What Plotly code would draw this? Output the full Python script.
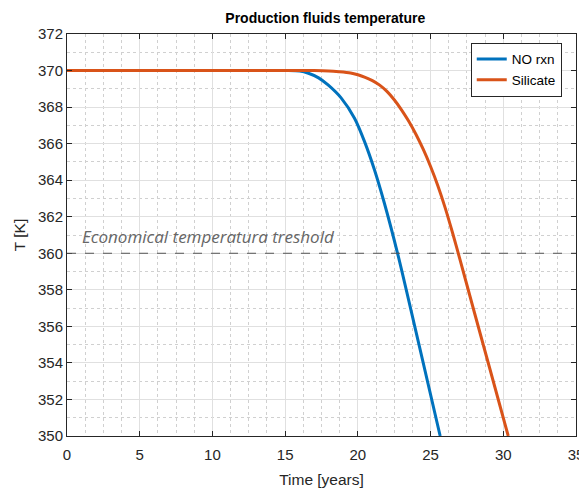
import plotly.graph_objects as go

# Data
t_norxn = [0, 5, 10, 15, 16, 16.6, 17.3, 17.95, 18.86, 19.77, 20.46, 21.14, 21.82, 22.73, 24.0, 25.66]
T_norxn = [370, 370, 370, 370, 369.97, 369.85, 369.6, 369.21, 368.49, 367.39, 366.11, 364.57, 362.75, 360.0, 355.7, 350.0]

t_sil = [0, 5, 10, 15, 17, 18, 18.7, 19.5, 20, 20.5, 21, 21.5, 22, 22.5, 23, 23.5, 24, 24.5, 25, 25.5, 26, 26.5, 27, 28, 29, 30.34]
T_sil = [370, 370, 370, 370, 370, 369.98, 369.94, 369.87, 369.77, 369.63, 369.45, 369.2, 368.86, 368.4, 367.85, 367.22, 366.5, 365.68, 364.75, 363.7, 362.5, 361.15, 359.72, 356.8, 353.9, 350.0]

THRESHOLD = 360
threshold_label = "Economical temperatura treshold"
x_range = [0, 35]
y_range = [350, 372]

fig = go.Figure()
fig.add_trace(go.Scatter(x=t_norxn, y=T_norxn, mode="lines", name="NO rxn",
                         line=dict(color="#0072BD", width=3, shape="spline", smoothing=0.8)))
fig.add_trace(go.Scatter(x=t_sil, y=T_sil, mode="lines", name="Silicate",
                         line=dict(color="#D95319", width=3, shape="spline", smoothing=0.8)))

fig.add_shape(type="line", xref="x", yref="y", x0=x_range[0], x1=x_range[1],
              y0=THRESHOLD, y1=THRESHOLD, line=dict(color="#555555", width=1, dash="dash"))
fig.add_annotation(x=0.9, y=THRESHOLD, xref="x", yref="y", text=threshold_label,
                   showarrow=False, xanchor="left", yanchor="bottom", yshift=3,
                   font=dict(family="Open Sans", size=17, color="#666666", style="italic"))

axis_common = dict(
    showline=True, linecolor="#262626", linewidth=1, mirror="ticks",
    ticks="inside", ticklen=5, tickcolor="#262626",
    showgrid=True, gridcolor="#e0e0e0", gridwidth=1,
    zeroline=False, automargin=False,
    tickfont=dict(family="Liberation Sans", size=15, color="#262626"),
)

fig.update_xaxes(**axis_common, range=x_range, dtick=5, tick0=0, ticklabelstandoff=5,
                 minor=dict(dtick=1.25, showgrid=True, gridcolor="#d0d0d0", griddash="dot", ticks=""),
                 title=dict(text="Time [years]", font=dict(family="Liberation Sans", size=15.5, color="#262626"), standoff=12))
fig.update_yaxes(**axis_common, range=y_range, dtick=2, tick0=350,
                 minor=dict(dtick=1, showgrid=True, gridcolor="#d0d0d0", griddash="dot", ticks=""),
                 title=dict(text="T [K]", font=dict(family="Liberation Sans", size=15.5, color="#262626"), standoff=8))

# The page adds an 8px body margin, so the figure is sized to fit inside the window.
fig.update_layout(
    width=579, height=484,
    margin=dict(l=59, r=11, t=26, b=56),
    paper_bgcolor="white", plot_bgcolor="white",
    title=dict(text="<b>Production fluids temperature</b>", x=0.548, xanchor="center", y=0.979, yanchor="middle",
               font=dict(family="Liberation Sans", size=14, color="#000000")),
    legend=dict(x=0.972, y=0.978, xanchor="right", yanchor="top",
                bordercolor="#262626", borderwidth=1, bgcolor="white",
                font=dict(family="Liberation Sans", size=13.5, color="#000000"),
                tracegroupgap=0, itemwidth=30),
    showlegend=True,
)

fig.write_html("out.html")
